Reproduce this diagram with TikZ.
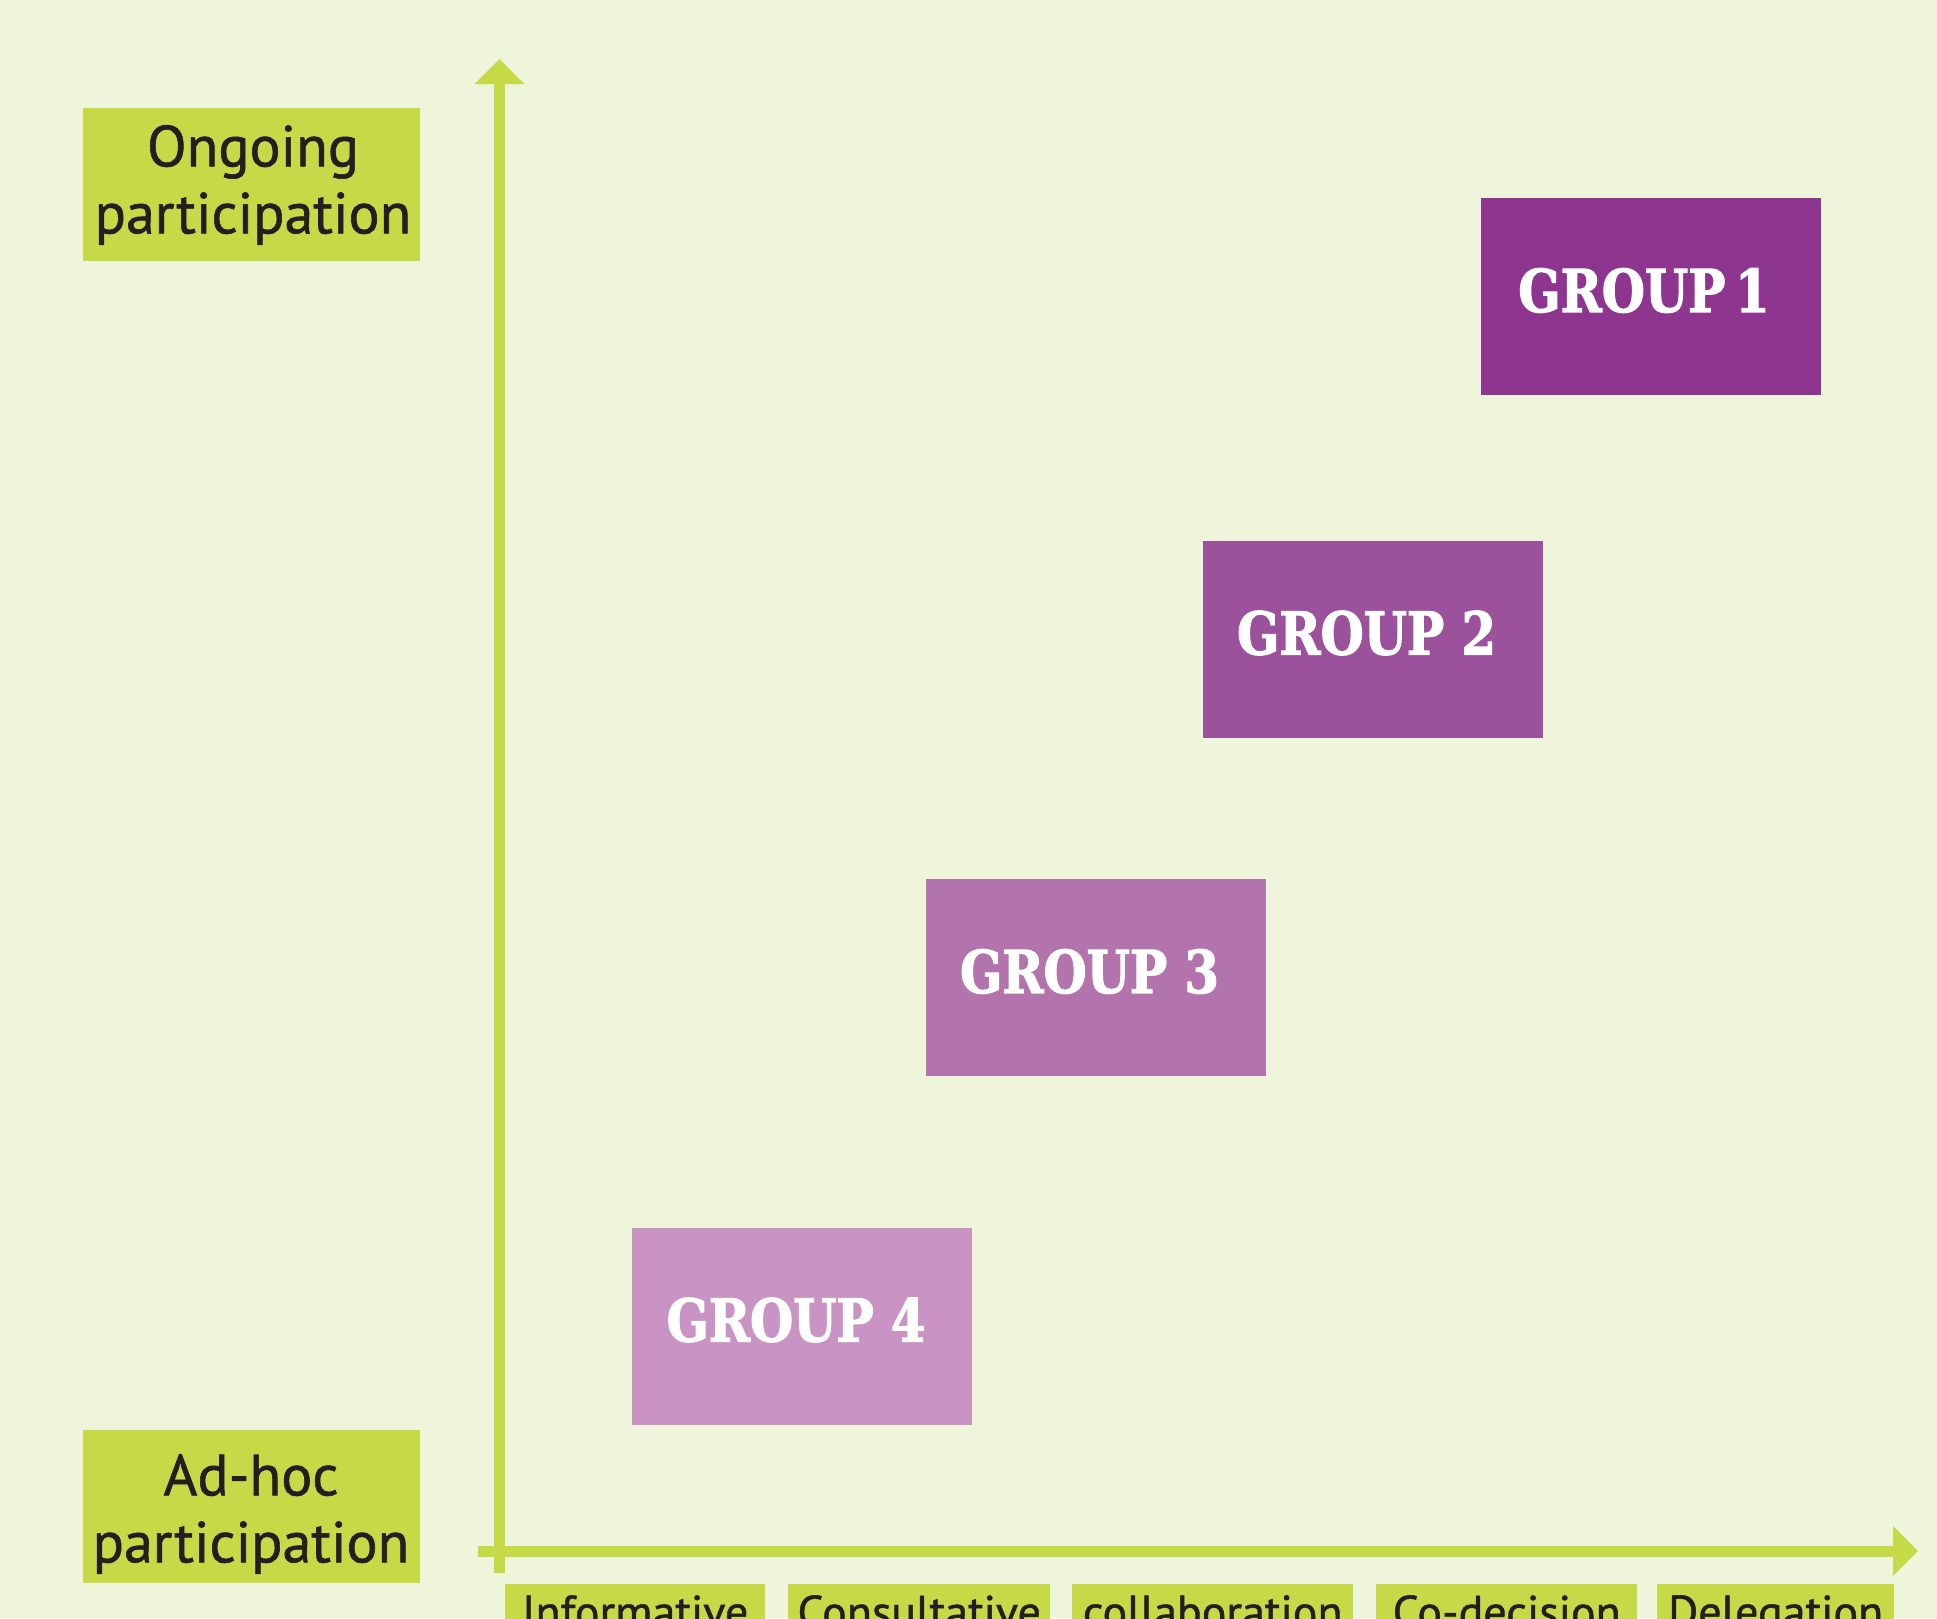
\documentclass[tikz,border=0pt]{standalone}
\usepackage{fontspec}
\usetikzlibrary{arrows.meta}
\newfontfamily\labelfont[FakeBold=1]{PT Sans}
\newfontfamily\groupfont[UprightFont=* Bold,FakeStretch=0.84,FakeBold=2]{DejaVu Serif}
\definecolor{bgc}{HTML}{EFF5DA}
\definecolor{lime}{HTML}{C6DA47}
\definecolor{ink}{HTML}{231F20}
\definecolor{gone}{HTML}{8E3590}
\definecolor{gtwo}{HTML}{9C519C}
\definecolor{gthree}{HTML}{B373AD}
\definecolor{gfour}{HTML}{C994C3}
\tikzset{
  axisline/.style={draw=lime, line width=11pt, -{Triangle[width=48pt,length=25pt]}},
  sidebox/.style={fill=lime, inner sep=0pt, minimum width=337pt, minimum height=153pt},
  sidetext/.style={inner sep=0pt, align=center, text=ink, font=\labelfont\fontsize{58}{67}\selectfont},
  bottombox/.style={fill=lime, inner sep=0pt, anchor=north west, text=ink, font=\labelfont\fontsize{46}{50}\selectfont},
  groupbox/.style={inner sep=0pt, minimum width=340pt, minimum height=197pt},
  grouptext/.style={text=white, inner sep=0pt, font=\groupfont\fontsize{59}{59}\selectfont}
}
\begin{document}
\begin{tikzpicture}[x=1pt,y=-1pt]
\useasboundingbox (0,0) rectangle (1937,1618);
\clip (0,0) rectangle (1937,1618);
\fill[bgc] (0,0) rectangle (1937,1618);

% axes
\coordinate (ybot) at (499.5,1573);
\coordinate (ytop) at (499.5,59);
\coordinate (xleft) at (478,1551);
\coordinate (xright) at (1918,1551);
\draw[axisline] (ybot) -- (ytop);
\draw[axisline] (xleft) -- (xright);

% side labels
\node[sidebox] (ongoing) at (251.5,184.5) {};
\node[sidetext] (ongoingt) at (253,185) {Ongoing\\participation};
\node[sidebox] (adhoc) at (251.5,1506) {};
\node[sidetext] (adhoct) at (251,1514) {Ad-hoc\\participation};

% groups
\node[groupbox, fill=gone] (g1) at (1651,296.5) {};
\node[grouptext] (g1t) at ([shift={(-7,-6)}]g1.center) {GROUP\,1};
\node[groupbox, fill=gtwo] (g2) at (1372.5,639) {};
\node[grouptext] (g2t) at ([shift={(-6,-6)}]g2.center) {GROUP 2};
\node[groupbox, fill=gthree] (g3) at (1095.5,977.5) {};
\node[grouptext] (g3t) at ([shift={(-6,-6)}]g3.center) {GROUP 3};
\node[groupbox, fill=gfour] (g4) at (802,1326) {};
\node[grouptext] (g4t) at ([shift={(-6,-6)}]g4.center) {GROUP 4};

% bottom labels
\node[bottombox, minimum width=260pt, minimum height=80pt] (inf) at (505,1584) {};
\node[bottombox, anchor=north, text depth=0pt] (inft) at ([yshift=-11]inf.north) {Informative};
\node[bottombox, minimum width=262pt, minimum height=80pt] (con) at (788,1584) {};
\node[bottombox, anchor=north, text depth=0pt] (cont) at ([yshift=-11]con.north) {Consultative};
\node[bottombox, minimum width=281pt, minimum height=80pt] (col) at (1072,1584) {};
\node[bottombox, anchor=north, text depth=0pt] (colt) at ([yshift=-11]col.north) {collaboration};
\node[bottombox, minimum width=261pt, minimum height=80pt] (cod) at (1376,1584) {};
\node[bottombox, anchor=north, text depth=0pt] (codt) at ([yshift=-11]cod.north) {Co-decision};
\node[bottombox, minimum width=237pt, minimum height=80pt] (del) at (1657,1584) {};
\node[bottombox, anchor=north, text depth=0pt] (delt) at ([yshift=-11]del.north) {Delegation};
\end{tikzpicture}
\end{document}
